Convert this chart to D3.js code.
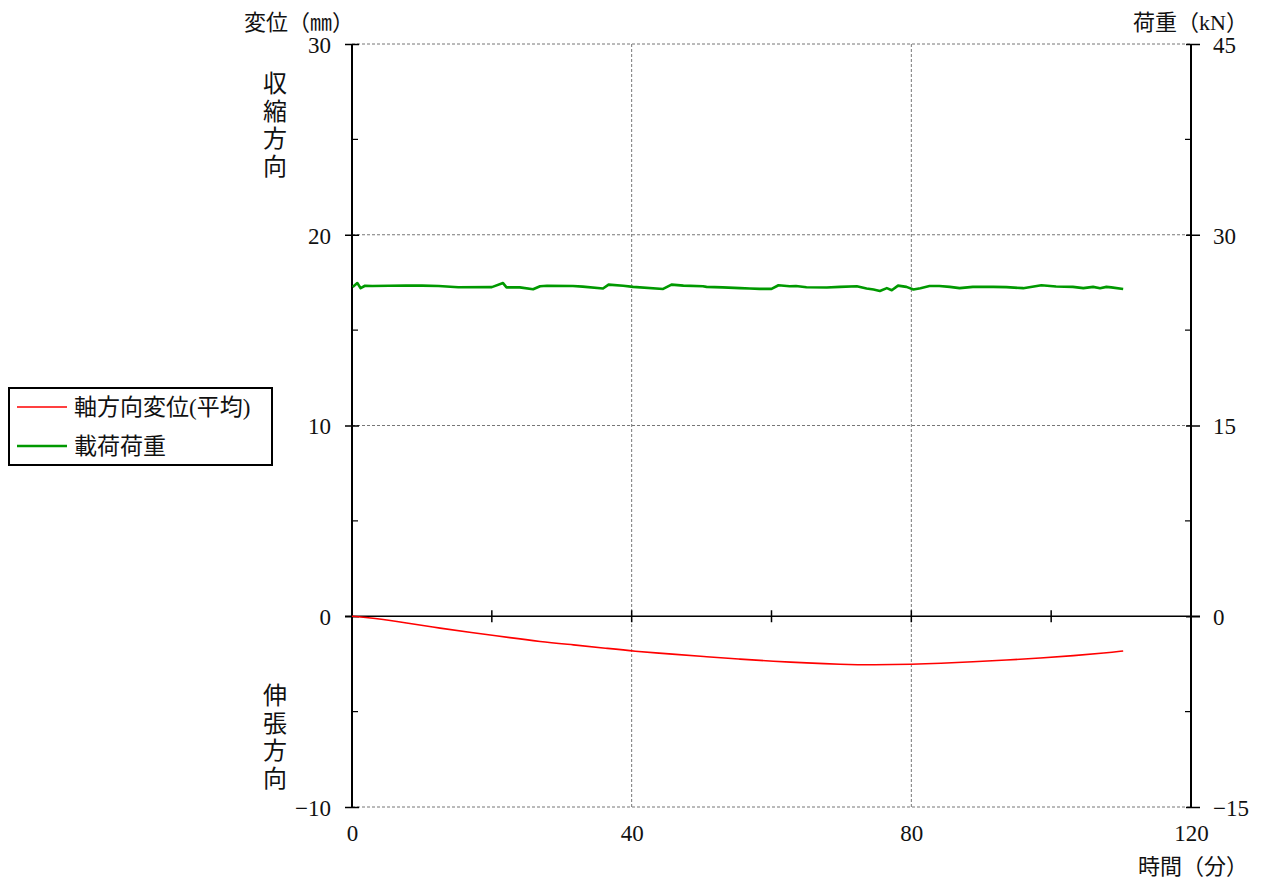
<!DOCTYPE html>
<html>
<head>
<meta charset="utf-8">
<script src="https://cdn.jsdelivr.net/npm/d3@7"></script>
<style>
  html, body { margin: 0; padding: 0; background: #fff; }
  svg text { font-family: "Liberation Serif", "Noto Sans CJK JP", serif; fill: #111; }
</style>
</head>
<body>
<svg id="chart" width="1263" height="881"></svg>
<script>
// Axial displacement (mm), left axis, sampled over time (min)
const dispTime = [0, 3.05, 7.8, 12.6, 17.4, 20.2, 22.1, 26.9, 31.7, 36.4, 40.2, 46.0, 50.7, 55.5, 60.3, 65.0, 69.8, 74.6, 80.3, 84.1, 88.8, 93.6, 98.4, 103.2, 107.9, 110.3];
const dispValue = [0.0, -0.09, -0.35, -0.63, -0.87, -1.0, -1.10, -1.33, -1.5, -1.68, -1.83, -1.99, -2.12, -2.25, -2.36, -2.45, -2.52, -2.55, -2.52, -2.47, -2.39, -2.30, -2.19, -2.07, -1.92, -1.82];

// Applied load (kN), right axis
const loadTime = [0.1, 0.76, 1.24, 1.86, 2.9, 5.3, 7.7, 10.0, 12.4, 15.2, 20.0, 21.6, 22.1, 24.0, 25.9, 26.9, 27.9, 31.6, 33.0, 35.9, 36.7, 38.8, 40.2, 44.5, 45.7, 47.4, 50.2, 50.7, 53.0, 55.5, 56.9, 58.3, 60.0, 61.0, 62.6, 63.5, 65.0, 67.9, 69.8, 72.2, 73.6, 74.6, 75.5, 76.5, 77.2, 78.1, 79.3, 80.3, 81.3, 82.6, 84.0, 85.5, 86.9, 88.8, 91.7, 93.6, 96.0, 98.6, 100.7, 103.1, 104.6, 106.0, 107.0, 107.9, 108.6, 110.3];
const loadValue = [25.89, 26.2, 25.8, 25.99, 25.97, 25.99, 26.0, 26.0, 25.97, 25.87, 25.88, 26.2, 25.86, 25.86, 25.71, 25.95, 25.99, 25.97, 25.92, 25.77, 26.08, 25.99, 25.9, 25.74, 26.08, 26.0, 25.95, 25.9, 25.86, 25.8, 25.77, 25.74, 25.74, 26.03, 25.95, 25.97, 25.87, 25.85, 25.9, 25.95, 25.77, 25.69, 25.58, 25.8, 25.64, 26.0, 25.9, 25.69, 25.8, 25.97, 25.97, 25.9, 25.8, 25.9, 25.9, 25.88, 25.8, 26.03, 25.93, 25.9, 25.8, 25.9, 25.8, 25.9, 25.86, 25.74];

const xTicks = [0, 40, 80, 120];
const xMinorTicks = [20, 60, 100];
const leftTicks = [30, 20, 10, 0, -10];
const rightTicks = [45, 30, 15, 0, -15];
const leftMinor = [25, 15, 5, -5];

const legendLabels = ["軸方向変位(平均)", "載荷荷重"];
const legendColors = ["#ff0000", "#009900"];

const svg = d3.select("#chart");
const L = 352, R = 1191, T = 44, B = 807;

const x = d3.scaleLinear().domain([0, 120]).range([L, R]);
const yL = d3.scaleLinear().domain([-10, 30]).range([B, T]);
const yR = d3.scaleLinear().domain([-15, 45]).range([B, T]);

const minus = d => d < 0 ? "−" + Math.abs(d) : String(d);

// dashed grid
const grid = svg.append("g").attr("stroke", "#777").attr("stroke-width", 1).attr("stroke-dasharray", "3,2");
[30, 20, 10, -10].forEach(v => {
  grid.append("line").attr("x1", L).attr("x2", R).attr("y1", yL(v)).attr("y2", yL(v));
});
[40, 80].forEach(v => {
  grid.append("line").attr("x1", x(v)).attr("x2", x(v)).attr("y1", T).attr("y2", B);
});

// left axis
const leftAxis = d3.axisLeft(yL).tickValues(leftTicks).tickSize(7).tickPadding(14).tickFormat(minus);
const gL = svg.append("g").attr("transform", `translate(${L},0)`).call(leftAxis);
gL.select(".domain").remove();
gL.selectAll(".tick line").attr("stroke", "#000").attr("stroke-width", 1.5).attr("x2", -7).attr("x1", 7);
gL.selectAll(".tick text").attr("font-size", 23).attr("dy", "0.36em");
gL.append("g").selectAll("line").data(leftMinor).join("line")
  .attr("x1", 0).attr("x2", 6).attr("y1", d => yL(d)).attr("y2", d => yL(d)).attr("stroke", "#000").attr("stroke-width", 1.2);

// right axis
const rightAxis = d3.axisRight(yR).tickValues(rightTicks).tickSize(9).tickPadding(14).tickFormat(minus);
const gR = svg.append("g").attr("transform", `translate(${R},0)`).call(rightAxis);
gR.select(".domain").remove();
gR.selectAll(".tick line").attr("stroke", "#000").attr("stroke-width", 1.5).attr("x1", -5);
gR.selectAll(".tick text").attr("font-size", 23).attr("dy", "0.36em").attr("x", 22);
gR.append("g").selectAll("line").data(leftMinor.map(v => v * 1.5)).join("line")
  .attr("x1", 0).attr("x2", -6).attr("y1", d => yR(d)).attr("y2", d => yR(d)).attr("stroke", "#000").attr("stroke-width", 1.2);

// frame verticals
svg.append("line").attr("x1", L).attr("x2", L).attr("y1", T).attr("y2", B).attr("stroke", "#000").attr("stroke-width", 2);
svg.append("line").attr("x1", R).attr("x2", R).attr("y1", T).attr("y2", B).attr("stroke", "#000").attr("stroke-width", 2);

// zero line with time ticks
svg.append("line").attr("x1", L - 7).attr("x2", R + 9).attr("y1", yL(0)).attr("y2", yL(0)).attr("stroke", "#000").attr("stroke-width", 1.5);
svg.append("g").selectAll("line").data(xMinorTicks.concat([40, 80])).join("line")
  .attr("x1", d => x(d)).attr("x2", d => x(d)).attr("y1", yL(0) - 6).attr("y2", yL(0) + 6)
  .attr("stroke", "#000").attr("stroke-width", 1.5);

// bottom time labels
const xAxis = d3.axisBottom(x).tickValues(xTicks).tickSize(0).tickPadding(18);
const gX = svg.append("g").attr("transform", `translate(0,${B})`).call(xAxis);
gX.select(".domain").remove();
gX.selectAll(".tick text").attr("font-size", 23);

// axis titles
svg.append("text").attr("x", 244).attr("y", 30).attr("font-size", 22).text("変位（㎜）");
svg.append("text").attr("x", 1248).attr("y", 30).attr("font-size", 22).attr("text-anchor", "end").text("荷重（kN）");
svg.append("text").attr("x", 1248).attr("y", 874).attr("font-size", 22).attr("text-anchor", "end").text("時間（分）");

const vLabel = (chars, y0) => {
  chars.split("").forEach((c, i) => {
    svg.append("text").attr("x", 275).attr("y", y0 + i * 27.5).attr("font-size", 24).attr("text-anchor", "middle").text(c);
  });
};
vLabel("収縮方向", 92);
vLabel("伸張方向", 704);

// series
const dispLine = d3.line().x((d, i) => x(dispTime[i])).y(d => yL(d)).curve(d3.curveBasis);
svg.append("path").datum(dispValue).attr("d", dispLine).attr("fill", "none")
  .attr("stroke", legendColors[0]).attr("stroke-width", 1.6);

const loadLine = d3.line().x((d, i) => x(loadTime[i])).y(d => yR(d));
svg.append("path").datum(loadValue).attr("d", loadLine).attr("fill", "none")
  .attr("stroke", legendColors[1]).attr("stroke-width", 2.6).attr("stroke-linejoin", "round");

// legend
const lg = svg.append("g");
lg.append("rect").attr("x", 9).attr("y", 388).attr("width", 263).attr("height", 77)
  .attr("fill", "#fff").attr("stroke", "#000").attr("stroke-width", 2);
legendLabels.forEach((lab, i) => {
  const yy = 407 + i * 39;
  lg.append("line").attr("x1", 17).attr("x2", 67).attr("y1", yy).attr("y2", yy)
    .attr("stroke", legendColors[i]).attr("stroke-width", i === 0 ? 1.6 : 2.6);
  lg.append("text").attr("x", 74).attr("y", yy + 8).attr("font-size", 23).text(lab);
});
</script>
</body>
</html>
